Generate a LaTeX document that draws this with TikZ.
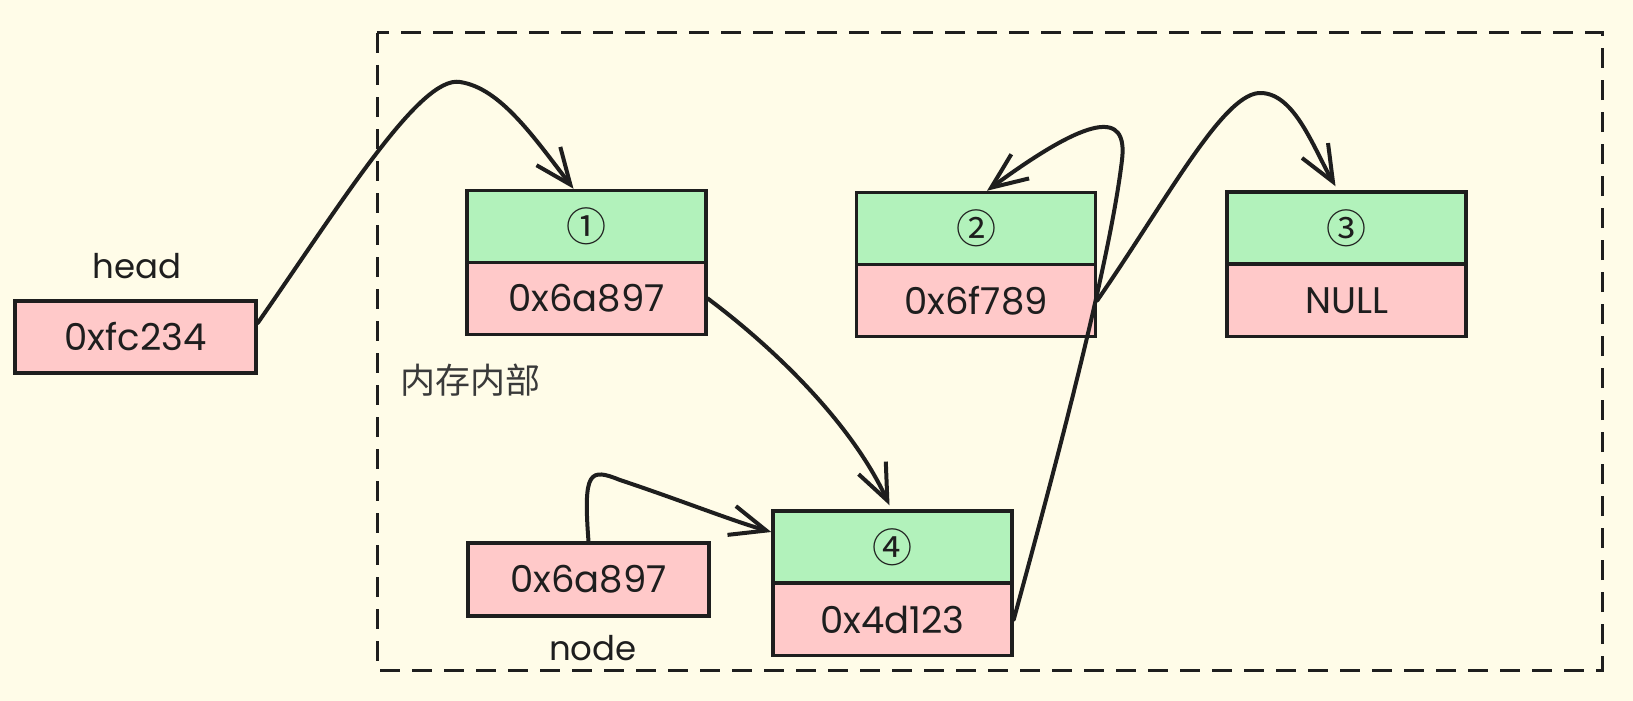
\documentclass[tikz,border=0pt]{standalone}
\usepackage{fontspec}
\setmainfont{Poppins}
\newfontfamily\cjk{Noto Sans CJK SC}
\usetikzlibrary{arrows.meta,calc}
\definecolor{canvas}{HTML}{FFFCE8}
\definecolor{ink}{HTML}{1E1E1E}
\definecolor{keyfill}{HTML}{B2F2BB}
\definecolor{ptrfill}{HTML}{FFC9C9}
\definecolor{note}{HTML}{3A3A3A}
\tikzset{
  cell/.style={draw=ink, line width=3.5pt, minimum width=239pt, minimum height=72pt,
    inner sep=0pt, text=ink, font=\fontsize{37}{42}\selectfont},
  keycell/.style={cell, fill=keyfill, font=\cjk\fontsize{40}{46}\selectfont},
  ptrcell/.style={cell, fill=ptrfill},
  tag/.style={inner sep=0pt, text=ink, font=\fontsize{34}{40}\selectfont},
  link/.style={draw=ink, line width=4pt, line cap=round, line join=round,
    -{Straight Barb[length=36pt,width=30pt,line width=4pt]}},
  region/.style={draw=ink, line width=3pt, dash pattern=on 20pt off 12pt}
}
\begin{document}
\begin{tikzpicture}[x=1pt,y=-1pt]
  \fill[canvas] (0,0) rectangle (1633,701);
  \useasboundingbox (0,0) rectangle (1633,701);

  % memory region
  \draw[region] (377,33) rectangle (1602,670);
  \node[inner sep=0pt, text=note, font=\cjk\fontsize{35}{40}\selectfont] (mem) at (470,380) {内存内部};

  % head pointer
  \node[ptrcell, minimum width=241pt] (head) at (135.5,337) {0xfc234};
  \node[tag] (headlbl) at (137,266) {head};

  % list nodes: key on top, next pointer below
  \node[keycell] (n1t) at (586.5,226.5) {①};
  \node[ptrcell] (n1b) at (586.5,298.5) {0x6a897};
  \node[keycell] (n2t) at (976,228.5) {②};
  \node[ptrcell] (n2b) at (976,300.5) {0x6f789};
  \node[keycell] (n3t) at (1346.5,228) {③};
  \node[ptrcell] (n3b) at (1346.5,300.5) {NULL};
  \node[keycell] (n4t) at (892.5,547) {④};
  \node[ptrcell] (n4b) at (892.5,619.5) {0x4d123};

  % new node pointer
  \node[ptrcell, minimum width=241pt, minimum height=73pt] (nbox) at (588.5,579.5) {0x6a897};
  \node[tag] (nodelbl) at (593,648) {node};

  % links
  \draw[link] ([yshift=14pt]head.east)
    .. controls (340,205) and (420,75) .. (460,82)
    .. controls (500,88) and (533,136) .. ([xshift=-13pt]n1t.north);
  \draw[link] (n1b.east)
    .. controls (770,345) and (850,420) .. ([xshift=-3pt,yshift=4pt]n4t.north);
  \draw[link] (nbox.north)
    .. controls (583,470) and (590,468) .. (620,480)
    .. controls (680,500) and (730,520) .. ([yshift=15pt]n4t.west);
  \draw[link] (n4b.east)
    .. controls (1060,450) and (1110,260) .. (1122,160)
    .. controls (1128,110) and (1090,115) .. ([xshift=11pt]n2t.north);
  \draw[link] (n2b.east)
    .. controls (1170,195) and (1225,90) .. (1262,93)
    .. controls (1295,95) and (1313,147) .. ([xshift=-11pt,yshift=4pt]n3t.north);
\end{tikzpicture}
\end{document}
